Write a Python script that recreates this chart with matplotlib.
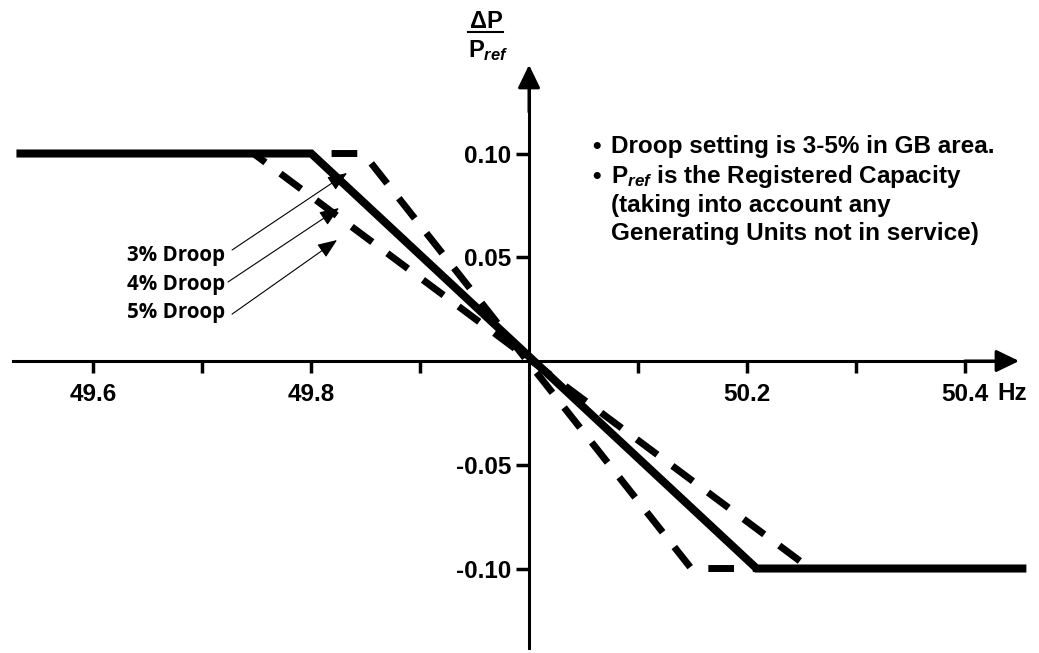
import matplotlib
matplotlib.use("Agg")
import matplotlib.pyplot as plt

plt.rcParams.update({
    'font.family': 'Liberation Sans',
    'font.weight': 'bold',
    'mathtext.fontset': 'custom',
    'mathtext.rm': 'Liberation Sans:bold',
    'mathtext.bf': 'Liberation Sans:bold',
    'mathtext.it': 'Liberation Sans:italic:bold',
})

# droop characteristics: frequency (Hz) vs dP/Pref
freq_3 = [49.533, 49.848, 50.149, 50.453]
freq_4 = [49.533, 49.800, 50.209, 50.453]
freq_5 = [49.533, 49.747, 50.258, 50.453]
dp = [0.10, 0.10, -0.10, -0.10]

x_ticks = [49.6, 49.7, 49.8, 49.9, 50.1, 50.2, 50.3, 50.4]
x_labels = ['49.6', '', '49.8', '', '', '50.2', '', '50.4']
y_ticks = [0.10, 0.05, -0.05, -0.10]
y_labels = ['0.10', '0.05', '-0.05', '-0.10']

droop_labels = ['3% Droop', '4% Droop', '5% Droop']
notes = ['Droop setting is 3-5% in GB area.',
         r'$\mathbf{P}_{\mathit{ref}}$ is the Registered Capacity',
         '(taking into account any',
         'Generating Units not in service)']

fig = plt.figure(figsize=(10.39, 6.53), dpi=100)
ax = fig.add_axes([0, 0, 1, 1])
ax.set_xlim(49.5142, 50.4683)
ax.set_ylim(-0.14072, 0.17398)
ax.patch.set_alpha(0)

# axes through the origin
for s in ['top', 'right']:
    ax.spines[s].set_visible(False)
ax.spines['left'].set_position(('data', 50.0))
ax.spines['bottom'].set_position(('data', 0.0))
ax.spines['left'].set_bounds(-0.1383, 0.135)
ax.spines['bottom'].set_bounds(49.526, 50.44)
for s in ['left', 'bottom']:
    ax.spines[s].set_linewidth(2.2)

ax.set_xticks(x_ticks, x_labels)
ax.set_yticks(y_ticks, y_labels)
ax.tick_params(axis='both', direction='out', width=2.5, labelsize=17.5)
ax.tick_params(axis='x', length=8.6, pad=7)
ax.tick_params(axis='y', length=9.5, pad=3.5)

arrow_style = dict(arrowstyle='-|>,head_length=1.4,head_width=0.68',
                   lw=2.2, color='k', mutation_scale=10, shrinkA=0, shrinkB=0)
ax.annotate('', xy=(50.450, 0), xytext=(50.40, 0), arrowprops=arrow_style)
ax.annotate('', xy=(50.0, 0.1427), xytext=(50.0, 0.12), arrowprops=arrow_style)

# droop lines
dash = (0, (3.7, 2.7))
ax.plot(freq_3, dp, color='k', lw=5, linestyle=dash, zorder=3)
ax.plot(freq_5, dp, color='k', lw=5, linestyle=dash, zorder=3)
ax.plot(freq_4, dp, color='k', lw=5.8, solid_joinstyle='miter', zorder=4)

# droop labels with arrows
label_x = 49.6309
label_y = [0.0482, 0.0342, 0.0207]
arrow_from = [(49.7273, 0.0535), (49.7236, 0.0381), (49.7273, 0.0226)]
arrow_to = [(49.8329, 0.0906), (49.8255, 0.0737), (49.8237, 0.0583)]
for lab, ly, p0, p1 in zip(droop_labels, label_y, arrow_from, arrow_to):
    ax.text(label_x, ly, lab, family=['Open Sans', 'DejaVu Sans'],
            fontweight='bold', fontsize=14.8, ha='left', va='baseline')
    ax.annotate('', xy=p1, xytext=p0,
                arrowprops=dict(arrowstyle='-|>,head_length=1.0,head_width=0.4',
                                lw=0.8, color='k', mutation_scale=12,
                                shrinkA=0, shrinkB=0))

# axis labels
ax.text(49.9605, 0.1605, '\u0394P', fontsize=17, ha='center', va='baseline')
ax.plot([49.9440, 49.9760], [0.1586, 0.1586], color='k', lw=1.5)
ax.text(49.9440, 0.1465, r'$\mathbf{P}_{\mathit{ref}}$', fontsize=17,
        ha='left', va='baseline')
ax.text(50.4435, -0.0159, 'Hz', fontsize=17.5, ha='center', va='center')

# notes
note_y = [0.10024, 0.08578, 0.07181, 0.05831]
for i, (txt, ny) in enumerate(zip(notes, note_y)):
    if i < 2:
        ax.text(50.0579, ny, '\u2022', fontsize=17.5, ha='left', va='baseline')
    ax.text(50.0753, ny, txt, fontsize=17.5, ha='left', va='baseline')

fig.savefig('out.png', dpi=100)
